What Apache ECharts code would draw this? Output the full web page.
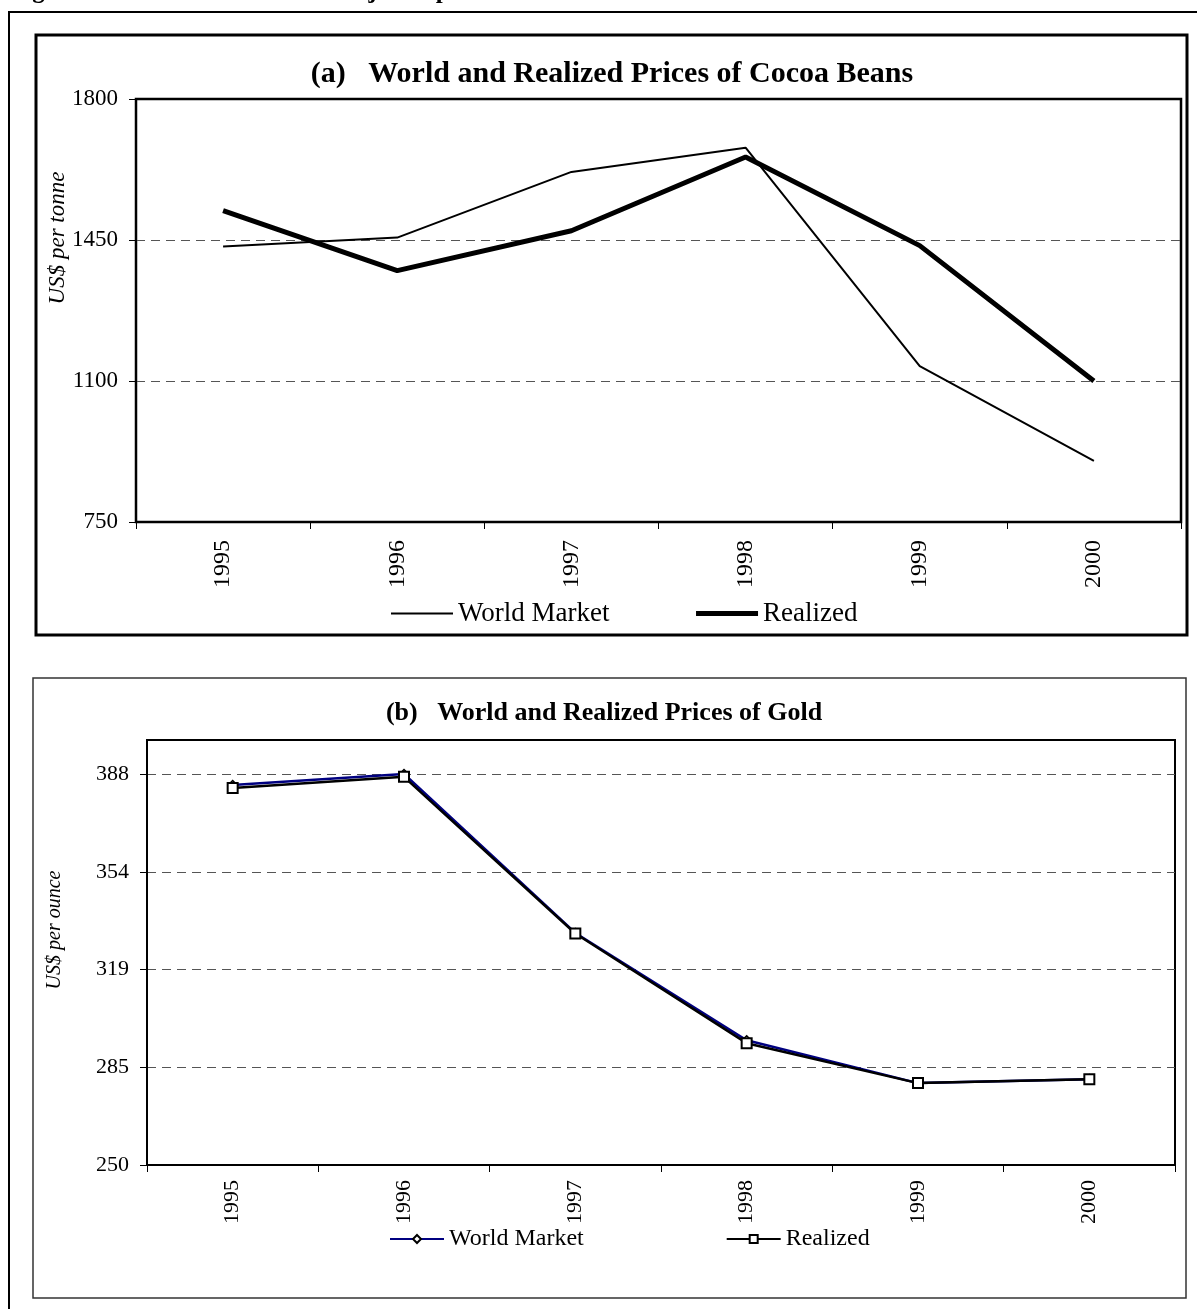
<!DOCTYPE html>
<html>
<head>
<meta charset="utf-8">
<script src="https://cdn.jsdelivr.net/npm/echarts@6/dist/echarts.min.js"></script>
<style>
  html, body { margin: 0; padding: 0; background: #fff; }
  #page { position: relative; width: 1197px; height: 1309px; overflow: hidden; }
  #frame { position: absolute; left: 8px; top: 11px; width: 1300px; height: 1400px;
           border-left: 2px solid #000; border-top: 2px solid #000; }
  .chart { position: absolute; left: 0; top: 0; width: 1197px; height: 1309px; }
</style>
</head>
<body>
<div id="page">
  <div id="frame"></div>
  <div id="cocoa" class="chart"></div>
  <div id="gold" class="chart"></div>
</div>
<script>
// Years shown on both panels
const years = ['1995', '1996', '1997', '1998', '1999', '2000'];

// Cocoa beans, US$ per tonne
const cocoaWorld = [1434, 1456, 1619, 1679, 1137, 902];
const cocoaRealized = [1523, 1374, 1473, 1656, 1436, 1100];
const cocoaTicks = [750, 1100, 1450, 1800];

// Gold, US$ per ounce (axis runs 250..400 in steps of 34.5)
const goldWorld = [384.1, 388.0, 331.9, 294.0, 278.9, 280.3];
const goldRealized = [383.1, 387.0, 331.7, 293.0, 278.9, 280.3];
const goldTicks = [250, 284.5, 319, 353.5, 388];
const goldMax = 400;

const FONT = '"Liberation Serif", "Times New Roman", serif';

function axisX(margin, size) {
  return {
    type: 'category', data: years, boundaryGap: true,
    axisLine: { lineStyle: { color: '#000', width: 2 } },
    axisTick: { show: true, alignWithLabel: false, length: 7, lineStyle: { color: '#000', width: 1 } },
    axisLabel: { rotate: 90, margin: margin, color: '#000', fontFamily: FONT, fontSize: size },
    splitLine: { show: false }
  };
}

function axisY(ticks, max, size) {
  return {
    type: 'value',
    min: ticks[0],
    max: max,
    interval: ticks[1] - ticks[0],
    axisLine: { show: true, lineStyle: { color: '#000', width: 2 } },
    axisTick: { show: true, length: 7, lineStyle: { color: '#000', width: 1 } },
    axisLabel: { margin: 18, color: '#000', fontFamily: FONT, fontSize: size,
                 showMaxLabel: max === ticks[ticks.length - 1],
                 formatter: v => String(Math.round(v)) },
    splitLine: { show: true, showMinLine: false, showMaxLine: false,
                 lineStyle: { color: '#555', width: 1, type: [9, 6] } }
  };
}

// Legend entries that show the plain line only (no marker)
const plainIcon = { opacity: 0, color: 'transparent', borderWidth: 0 };

// Panel (a): cocoa
const cocoaChart = echarts.init(document.getElementById('cocoa'), null, { renderer: 'canvas' });
cocoaChart.setOption({
  animation: false,
  backgroundColor: 'transparent',
  grid: { left: 136, top: 99, width: 1045, height: 423, show: true, borderColor: '#000', borderWidth: 2.5, backgroundColor: 'transparent' },
  xAxis: axisX(18, 24),
  yAxis: axisY(cocoaTicks, cocoaTicks[cocoaTicks.length - 1], 23),
  legend: {
    left: 390, top: 600, padding: 0, itemGap: 84, itemWidth: 62, itemHeight: 14,
    textStyle: { color: '#000', fontFamily: FONT, fontSize: 27 },
    data: [
      { name: 'World Market', itemStyle: plainIcon, lineStyle: { width: 2, color: '#000' } },
      { name: 'Realized', itemStyle: plainIcon, lineStyle: { width: 5, color: '#000' } }
    ]
  },
  series: [
    { name: 'World Market', type: 'line', data: cocoaWorld, symbol: 'none',
      lineStyle: { color: '#000', width: 2 }, itemStyle: { color: '#000' } },
    { name: 'Realized', type: 'line', data: cocoaRealized, symbol: 'none',
      lineStyle: { color: '#000', width: 5 }, itemStyle: { color: '#000' } }
  ],
  graphic: [
    { type: 'text', left: 10, top: -21, silent: true,
      style: { text: "Figure 4.1:  Prices of Ghana's Major Exports", font: 'bold 25px ' + FONT, fill: '#000' } },
    { type: 'rect', silent: true, shape: { x: 36, y: 35, width: 1151, height: 600 },
      style: { fill: 'none', stroke: '#000', lineWidth: 3 } },
    { type: 'text', silent: true, x: 612, y: 74,
      style: { text: '(a)   World and Realized Prices of Cocoa Beans', font: 'bold 30px ' + FONT,
               fill: '#000', align: 'center', verticalAlign: 'middle' } },
    { type: 'text', silent: true, x: 58, y: 238, rotation: Math.PI / 2,
      style: { text: 'US$ per tonne', font: 'italic 23px ' + FONT, fill: '#000', align: 'center', verticalAlign: 'middle' } }
  ]
});

// Panel (b): gold
const goldChart = echarts.init(document.getElementById('gold'), null, { renderer: 'canvas' });
goldChart.setOption({
  animation: false,
  backgroundColor: 'transparent',
  grid: { left: 147, top: 740, width: 1028, height: 425, show: true, borderColor: '#000', borderWidth: 2, backgroundColor: 'transparent' },
  xAxis: axisX(15, 22),
  yAxis: axisY(goldTicks, goldMax, 22),
  legend: {
    left: 389, top: 1227, padding: 0, itemGap: 142, itemWidth: 54, itemHeight: 10,
    textStyle: { color: '#000', fontFamily: FONT, fontSize: 24 },
    data: ['World Market', 'Realized']
  },
  series: [
    { name: 'World Market', type: 'line', data: goldWorld, symbol: 'diamond', symbolSize: 9,
      lineStyle: { color: '#000080', width: 2.5 },
      itemStyle: { color: '#fff', borderColor: '#000', borderWidth: 1.5 } },
    { name: 'Realized', type: 'line', data: goldRealized, symbol: 'rect', symbolSize: 10,
      lineStyle: { color: '#000', width: 2.5 },
      itemStyle: { color: '#fff', borderColor: '#000', borderWidth: 2 } }
  ],
  graphic: [
    { type: 'rect', silent: true, shape: { x: 33, y: 678, width: 1153, height: 620 },
      style: { fill: 'none', stroke: '#333', lineWidth: 1.5 } },
    { type: 'text', silent: true, x: 604, y: 713,
      style: { text: '(b)   World and Realized Prices of Gold', font: 'bold 26px ' + FONT,
               fill: '#000', align: 'center', verticalAlign: 'middle' } },
    { type: 'text', silent: true, x: 55, y: 930, rotation: Math.PI / 2,
      style: { text: 'US$ per ounce', font: 'italic 20px ' + FONT, fill: '#000', align: 'center', verticalAlign: 'middle' } }
  ]
});
</script>
</body>
</html>
